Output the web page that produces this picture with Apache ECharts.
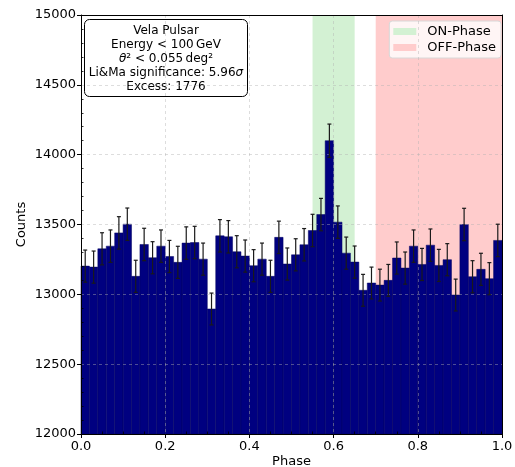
<!DOCTYPE html>
<html>
<head>
<meta charset="utf-8">
<script src="https://cdn.jsdelivr.net/npm/echarts@6/dist/echarts.min.js"></script>
<style>html,body{margin:0;padding:0;background:#fff}#c{width:515px;height:467px}</style>
</head>
<body>
<div id="c"></div>
<script>
// Histogram: 50 phase bins of width 0.02 between 0 and 1
var binWidth = 0.02;
var counts = [13202, 13195, 13326, 13345, 13440, 13502, 13129, 13357, 13262, 13345,
              13271, 13229, 13367, 13371, 13252, 12895, 13419, 13412, 13305, 13274,
              13205, 13252, 13129, 13408, 13217, 13283, 13355, 13457, 13571, 14100,
              13517, 13295, 13231, 13029, 13081, 13066, 13100, 13260, 13188, 13345,
              13214, 13352, 13207, 13248, 12995, 13500, 13126, 13179, 13112, 13386];
var errors = [115, 115, 115, 116, 116, 116, 115, 116, 115, 116,
              115, 115, 116, 116, 115, 114, 116, 116, 115, 115,
              115, 115, 115, 116, 115, 115, 116, 116, 116, 119,
              116, 115, 115, 114, 114, 114, 114, 115, 115, 116,
              115, 116, 115, 115, 114, 116, 115, 115, 115, 116];
var xTicks = [0, 0.2, 0.4, 0.6, 0.8, 1.0];
var xMinorTicks = [0.05, 0.1, 0.15, 0.25, 0.3, 0.35, 0.45, 0.5, 0.55, 0.65, 0.7, 0.75, 0.85, 0.9, 0.95];
var yTicks = [12000, 12500, 13000, 13500, 14000, 14500, 15000];
var onPhase = [0.55, 0.65];
var offPhase = [0.70, 1.0];
var infoLines = ['Vela Pulsar', 'Energy < 100\u2009GeV', '{it|\u03b8}\u00b2 < 0.055\u2009deg\u00b2', 'Li&Ma significance: 5.96{it|\u03c3}', 'Excess: 1776'];

var yMinorTicks = [];
for (var v = 12100; v < 15000; v += 100) { if (v % 500 !== 0) yMinorTicks.push(v); }

var histData = counts.map(function (c, i) { return [i * binWidth, (i + 1) * binWidth, c, errors[i]]; });

var ONC = '#d3f1d3', OFFC = '#ffcccc';
var FONT = 'DejaVu Sans';
var chart = echarts.init(document.getElementById('c'), null, {renderer: 'canvas'});

var gridPos = {left: 81, right: 13, top: 15, bottom: 33};
function baseX(extra) { return Object.assign({type: 'value', min: 0, max: 1, gridIndex: 0}, extra); }
function baseY(extra) { return Object.assign({type: 'value', min: 12000, max: 15000, gridIndex: 0}, extra); }
var hidden = {axisLabel: {show: false}, axisTick: {show: false}, splitLine: {show: false}, axisLine: {show: false}};
var gridLine = {show: true, lineStyle: {color: 'rgba(176,176,176,0.55)', type: [3, 3], width: 0.8}};

chart.setOption({
  animation: false,
  textStyle: {fontFamily: FONT},
  grid: Object.assign({show: false, containLabel: false, outerBoundsMode: 'none'}, gridPos),
  xAxis: [
    baseX({interval: 0.2, z: 10, name: 'Phase', nameLocation: 'middle', nameGap: 21, nameMoveOverlap: false,
      nameTextStyle: {fontSize: 13, color: '#000', fontFamily: FONT},
      axisLine: {show: true, lineStyle: {color: '#000', width: 1}},
      axisTick: {show: true, length: 4, lineStyle: {color: '#000'}, customValues: xTicks},
      axisLabel: {fontSize: 13, color: '#000', fontFamily: FONT, margin: 6, customValues: xTicks,
        formatter: function (v) { return v.toFixed(1); }},
      splitLine: gridLine}),
    baseX(Object.assign({}, hidden, {z: 10, position: 'bottom',
      axisTick: {show: true, inside: true, length: 2.5, lineStyle: {color: '#000', width: 0.8}, customValues: xMinorTicks}})),
    baseX(Object.assign({}, hidden, {z: 10, position: 'top',
      axisLine: {show: true, onZero: false, lineStyle: {color: '#000', width: 1}}}))
  ],
  yAxis: [
    baseY({interval: 500, z: 10, name: 'Counts', nameLocation: 'middle', nameGap: 53, nameMoveOverlap: false,
      nameTextStyle: {fontSize: 13, color: '#000', fontFamily: FONT},
      axisLine: {show: true, lineStyle: {color: '#000', width: 1}},
      axisTick: {show: true, length: 4, lineStyle: {color: '#000'}, customValues: yTicks},
      axisLabel: {fontSize: 13, color: '#000', fontFamily: FONT, margin: 5, customValues: yTicks,
        formatter: function (v) { return String(v); }},
      splitLine: gridLine}),
    baseY(Object.assign({}, hidden, {z: 10, position: 'left',
      axisTick: {show: true, inside: true, length: 2.5, lineStyle: {color: '#000', width: 0.8}, customValues: yMinorTicks}})),
    baseY(Object.assign({}, hidden, {z: 10, position: 'right',
      axisLine: {show: true, onZero: false, lineStyle: {color: '#000', width: 1}}}))
  ],
  legend: {
    orient: 'vertical', right: 14, top: 21, icon: 'rect', itemWidth: 23, itemHeight: 7, itemGap: 3,
    backgroundColor: 'rgba(255,255,255,0.8)', borderColor: '#d8d8d8', borderWidth: 1, borderRadius: 3,
    padding: [4, 5, 4, 4],
    textStyle: {fontSize: 13, color: '#000', fontFamily: FONT, padding: [0, 0, 0, 6]},
    data: [{name: 'ON-Phase', itemStyle: {color: ONC}}, {name: 'OFF-Phase', itemStyle: {color: OFFC}}]
  },
  graphic: [{
    type: 'group', left: 84, top: 19, z: 100,
    children: [
      {type: 'rect', shape: {x: 0, y: 0, width: 163, height: 77, r: 5},
       style: {fill: 'rgba(255,255,255,0.9)', stroke: '#000', lineWidth: 1}},
      {type: 'text', x: 81.5, y: 4,
       style: {text: infoLines.join('\n'), align: 'center', verticalAlign: 'top',
         font: '12px "DejaVu Sans"', fill: '#000', lineHeight: 14,
         rich: {it: {fontStyle: 'italic', fontSize: 12, fontFamily: FONT, fill: '#000'}}}}
    ]
  }],
  series: [
    {name: 'ON-Phase', type: 'line', data: [], z: 1, itemStyle: {color: ONC},
     markArea: {silent: true, itemStyle: {color: ONC}, data: [[{xAxis: onPhase[0]}, {xAxis: onPhase[1]}]]}},
    {name: 'OFF-Phase', type: 'line', data: [], z: 1, itemStyle: {color: OFFC},
     markArea: {silent: true, itemStyle: {color: OFFC}, data: [[{xAxis: offPhase[0]}, {xAxis: offPhase[1]}]]}},
    {name: 'hist', type: 'custom', z: 5, data: histData, encode: {x: [0, 1], y: 2},
     renderItem: function (params, api) {
       var x0 = api.value(0), x1 = api.value(1), y = api.value(2);
       var pA = api.coord([x0, y]), pB = api.coord([x1, 12000]);
       return {type: 'rect', shape: {x: pA[0], y: pA[1], width: pB[0] - pA[0], height: pB[1] - pA[1]},
         style: {fill: '#000080', stroke: '#000060', lineWidth: 0.5}};
     }},
    {name: 'err', type: 'custom', z: 12, data: histData, encode: {x: [0, 1], y: 2},
     renderItem: function (params, api) {
       var xc = (api.value(0) + api.value(1)) / 2, y = api.value(2), e = api.value(3);
       var t = api.coord([xc, y + e]), b = api.coord([xc, y - e]);
       var st = {stroke: '#1a1a1a', lineWidth: 1.2};
       return {type: 'group', children: [
         {type: 'line', shape: {x1: t[0], y1: t[1], x2: b[0], y2: b[1]}, style: st},
         {type: 'line', shape: {x1: t[0] - 2, y1: t[1], x2: t[0] + 2, y2: t[1]}, style: st},
         {type: 'line', shape: {x1: b[0] - 2, y1: b[1], x2: b[0] + 2, y2: b[1]}, style: st}
       ]};
     }}
  ]
});
</script>
</body>
</html>
